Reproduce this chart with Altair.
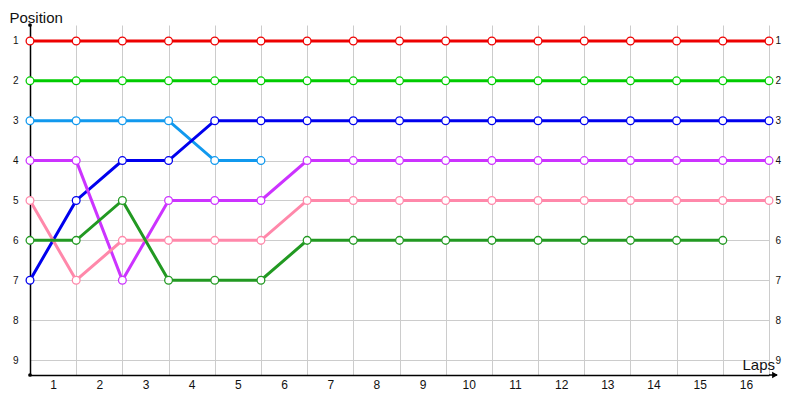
import altair as alt
import pandas as pd

# ---- data ----
lap_points = [0, 1, 2, 3, 4, 5, 6, 7, 8, 9, 10, 11, 12, 13, 14, 15, 16]
lap_labels = ["1", "2", "3", "4", "5", "6", "7", "8", "9", "10", "11", "12", "13", "14", "15", "16"]
position_ticks = [1, 2, 3, 4, 5, 6, 7, 8, 9]

series_names = ["Red", "Green", "Light blue", "Blue", "Purple", "Pink", "Dark green"]
series_colors = ["#ee0000", "#00cc00", "#1199ee", "#0000ee", "#cc33ff", "#ff88aa", "#229922"]

red_pos = [1, 1, 1, 1, 1, 1, 1, 1, 1, 1, 1, 1, 1, 1, 1, 1, 1]
green_pos = [2, 2, 2, 2, 2, 2, 2, 2, 2, 2, 2, 2, 2, 2, 2, 2, 2]
lightblue_pos = [3, 3, 3, 3, 4, 4]
blue_pos = [7, 5, 4, 4, 3, 3, 3, 3, 3, 3, 3, 3, 3, 3, 3, 3, 3]
purple_pos = [4, 4, 7, 5, 5, 5, 4, 4, 4, 4, 4, 4, 4, 4, 4, 4, 4]
pink_pos = [5, 7, 6, 6, 6, 6, 5, 5, 5, 5, 5, 5, 5, 5, 5, 5, 5]
darkgreen_pos = [6, 6, 5, 7, 7, 7, 6, 6, 6, 6, 6, 6, 6, 6, 6, 6]

all_series = [red_pos, green_pos, lightblue_pos, blue_pos, purple_pos, pink_pos, darkgreen_pos]

rows = []
for order, (name, vals) in enumerate(zip(series_names, all_series)):
    for i, v in enumerate(vals):
        rows.append({"series": name, "lap": lap_points[i], "pos": v, "order": order})
df = pd.DataFrame(rows)

label_values = [p + 0.5 for p in lap_points[:-1]]
label_expr = "[" + ",".join("'%s'" % s for s in lap_labels) + "][floor(datum.value)]"

W, H = 739, 350
xs = alt.Scale(domain=[0, 16], nice=False, zero=False)
ys = alt.Scale(domain=[0.6, 9.376], reverse=True, nice=False, zero=False)
color = alt.Color("series:N", scale=alt.Scale(domain=series_names, range=series_colors), legend=None)
stroke = alt.Stroke("series:N", scale=alt.Scale(domain=series_names, range=series_colors), legend=None)

TITLE_FONT = "Liberation Sans"
LABEL_FONT = "Liberation Sans"

lines = alt.Chart(df).mark_line(strokeWidth=3).encode(
    x=alt.X("lap:Q", scale=xs, axis=alt.Axis(
        values=lap_points, grid=True, gridColor="#cccccc", gridWidth=1,
        labels=False, ticks=False, domain=True, domainColor="black", domainWidth=1.5,
        title="", orient="bottom")),
    y=alt.Y("pos:Q", scale=ys, axis=alt.Axis(
        values=position_ticks, grid=True, gridColor="#cccccc", gridWidth=1,
        ticks=False, domain=True, domainColor="black", domainWidth=1.5,
        labelFont=LABEL_FONT, labelFontSize=10, labelColor="#111111", labelPadding=12,
        title="Position", titleAngle=0, titleX=-21, titleY=-3, titleAlign="left",
        titleBaseline="alphabetic", titleFont=TITLE_FONT, titleFontSize=15,
        titleFontWeight="normal", titleColor="#111111", orient="left")),
    color=color,
    detail="series:N",
    order=alt.Order("lap:Q"),
)

points = alt.Chart(df).mark_point(
    shape="circle", filled=True, fill="white", fillOpacity=1, opacity=1,
    strokeWidth=1.3, size=60
).encode(
    x=alt.X("lap:Q", scale=xs, axis=alt.Axis(
        values=label_values, labelExpr=label_expr, grid=False, ticks=False, domain=False,
        labelFont=LABEL_FONT, labelFontSize=12, labelColor="#111111", labelPadding=4,
        title="Laps", titleX=712, titleY=-6, titleAlign="left", titleBaseline="alphabetic",
        titleFont=TITLE_FONT, titleFontSize=15, titleFontWeight="normal", titleColor="#111111",
        orient="bottom")),
    y=alt.Y("pos:Q", scale=ys, axis=alt.Axis(
        values=position_ticks, grid=False, ticks=False, domain=False,
        labelFont=LABEL_FONT, labelFontSize=10, labelColor="#111111", labelPadding=6,
        title="", orient="right")),
    stroke=stroke,
)

one = pd.DataFrame({"k": [0]})
arrow_line = alt.Chart(one).mark_rule(color="black", strokeWidth=1.5).encode(
    x=alt.value(W), x2=alt.value(W + 8), y=alt.value(H))
arrow_head = alt.Chart(one).mark_point(shape="triangle-right", filled=True, color="black",
                                      opacity=1, size=45).encode(
    x=alt.value(W + 6), y=alt.value(H))
dot_top = alt.Chart(one).mark_circle(color="black", opacity=1, size=14).encode(
    x=alt.value(0), y=alt.value(0))
dot_origin = alt.Chart(one).mark_circle(color="black", opacity=1, size=14).encode(
    x=alt.value(0), y=alt.value(H))

chart = alt.layer(lines, points, arrow_line, arrow_head, dot_top, dot_origin).resolve_axis(
    x="independent", y="independent"
).properties(
    width=W, height=H,
    autosize=alt.AutoSizeParams(type="none"),
    padding={"left": 22, "top": 17, "right": 22, "bottom": 17},
    background="white",
).configure_view(stroke="transparent")

chart.save("out.html", embed_options={"renderer": "svg", "actions": False})
